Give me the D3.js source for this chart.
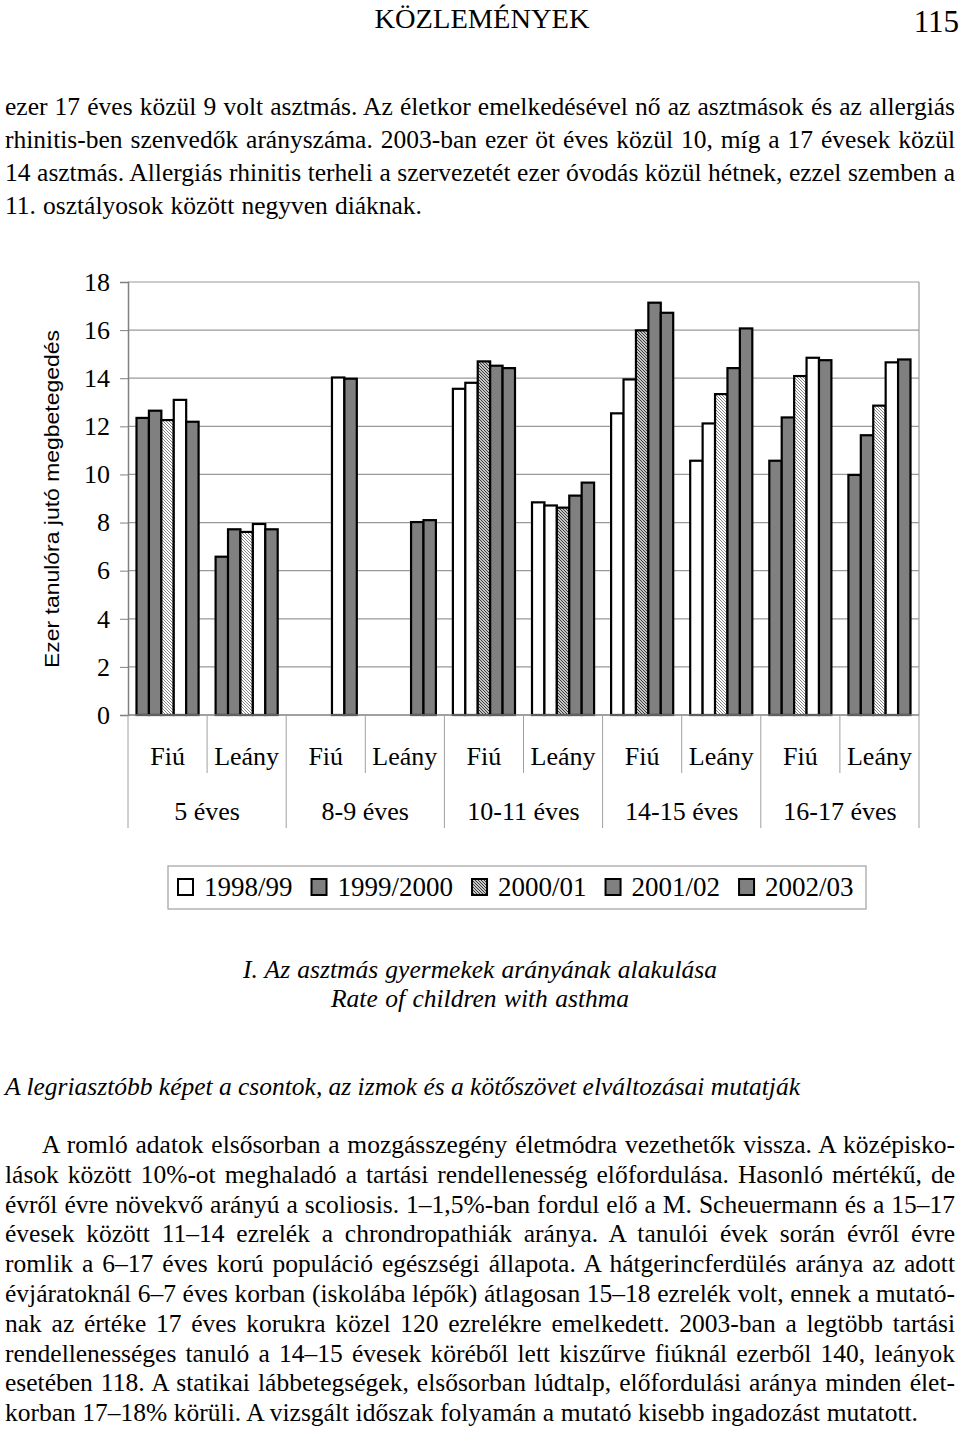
<!DOCTYPE html>
<html><head><meta charset="utf-8">
<script src="https://cdn.jsdelivr.net/npm/d3@7"></script>
<style>body{margin:0;background:#fff}svg{display:block}</style>
</head><body>
<svg id="c" width="960" height="1429"></svg>
<script>
// ---------- DATA ----------
const categories = ["Fiú","Leány","Fiú","Leány","Fiú","Leány","Fiú","Leány","Fiú","Leány"];
const ageGroups = ["5 éves","8-9 éves","10-11 éves","14-15 éves","16-17 éves"];
const seriesNames = ["1998/99","1999/2000","2000/01","2001/02","2002/03"];
const v1998_99   = [12.35, 6.58, null, null, 13.56, 8.84, 12.54, 10.57, 10.57,  9.98];
const v1999_2000 = [12.65, 7.72, null, null, 13.81, 8.71, 13.95, 12.12, 12.37, 11.63];
const v2000_01   = [12.26, 7.61, null, null, 14.70, 8.62, 15.99, 13.34, 14.09, 12.86];
const v2001_02   = [13.10, 7.94, 14.03, 8.02, 14.52, 9.12, 17.14, 14.42, 14.85, 14.66];
const v2002_03   = [12.19, 7.72, 13.98, 8.10, 14.42, 9.66, 16.72, 16.07, 14.75, 14.78];
const seriesValues = [v1998_99, v1999_2000, v2000_01, v2001_02, v2002_03];
const yTicks = [0,2,4,6,8,10,12,14,16,18];
const yTitle = "Ezer tanulóra jutó megbetegedés";

// fill style of each bar as printed (w = white, g = grey, h = dense hatch, l = light hatch)
const barStyle = [
  ["g","g","l","w","g"],["g","g","l","w","g"],
  ["-","-","-","w","g"],["-","-","-","g","g"],
  ["w","w","h","g","g"],["w","w","h","g","g"],
  ["w","w","h","g","g"],["w","w","l","g","g"],
  ["g","g","l","w","g"],["g","g","l","w","g"]
];
const legendStyle = ["w","g","h","g","g"];

// ---------- TEXT ----------
const headerTitle = "KÖZLEMÉNYEK";
const pageNumber = "115";
const introLines = [
  "ezer 17 éves közül 9 volt asztmás. Az életkor emelkedésével nő az asztmások és az allergiás",
  "rhinitis-ben szenvedők arányszáma. 2003-ban ezer öt éves közül 10, míg a 17 évesek közül",
  "14 asztmás. Allergiás rhinitis terheli a szervezetét ezer óvodás közül hétnek, ezzel szemben a",
  "11. osztályosok között negyven diáknak."
];
const captionLines = ["I. Az asztmás gyermekek arányának alakulása","Rate of children with asthma"];
const sectionHeading = "A legriasztóbb képet a csontok, az izmok és a kötőszövet elváltozásai mutatják";
const bodyLines = [
  "A romló adatok elsősorban a mozgásszegény életmódra vezethetők vissza. A középisko-",
  "lások között 10%-ot meghaladó a tartási rendellenesség előfordulása. Hasonló mértékű, de",
  "évről évre növekvő arányú a scoliosis. 1–1,5%-ban fordul elő a M. Scheuermann és a 15–17",
  "évesek között 11–14 ezrelék a chrondropathiák aránya. A tanulói évek során évről évre",
  "romlik a 6–17 éves korú populáció egészségi állapota. A hátgerincferdülés aránya az adott",
  "évjáratoknál 6–7 éves korban (iskolába lépők) átlagosan 15–18 ezrelék volt, ennek a mutató-",
  "nak az értéke 17 éves korukra közel 120 ezrelékre emelkedett. 2003-ban a legtöbb tartási",
  "rendellenességes tanuló a 14–15 évesek köréből lett kiszűrve fiúknál ezerből 140, leányok",
  "esetében 118. A statikai lábbetegségek, elsősorban lúdtalp, előfordulási aránya minden élet-",
  "korban 17–18% körüli. A vizsgált időszak folyamán a mutató kisebb ingadozást mutatott."
];

// ---------- DRAW ----------
const svg = d3.select("#c");
const serif = "'Liberation Serif','Times New Roman',serif";
const sans = "'Liberation Sans',Arial,sans-serif";

function fitWords(sel, target) {
  sel.each(function(){
    const t = d3.select(this).text();
    const n = (t.match(/ /g) || []).length;
    const w = this.getComputedTextLength();
    if (n > 0) d3.select(this).style("word-spacing", ((target - w) / n) + "px");
    else d3.select(this).attr("textLength", target).attr("lengthAdjust","spacing");
  });
}

// header
svg.append("text").attr("x", 482).attr("y", 28).attr("text-anchor","middle")
  .style("font-family", serif).style("font-size","27px").text(headerTitle)
  .attr("textLength", 215).attr("lengthAdjust","spacingAndGlyphs");
svg.append("text").attr("x", 959).attr("y", 32).attr("text-anchor","end")
  .style("font-family", serif).style("font-size","31px").text(pageNumber);

// intro paragraph
svg.append("g").selectAll("text").data(introLines).join("text")
  .attr("x", 5).attr("y", (d,i) => 115 + i*33)
  .style("font-family", serif).style("font-size","25.5px").text(d => d)
  .each(function(d,i){ fitWords(d3.select(this), i < 3 ? 950 : 417); });

// chart
const m = {left:128, right:919, top:282, bottom:715};
const x0 = d3.scaleBand().domain(d3.range(categories.length)).range([m.left, m.right]).padding(0);
const x1 = d3.scaleBand().domain(d3.range(seriesNames.length))
  .range([8.5, x0.bandwidth() - 8.5]).padding(0);
const y = d3.scaleLinear().domain([0,18]).range([m.bottom, m.top]);

const defs = svg.append("defs");
const pd = defs.append("pattern").attr("id","hatchDense").attr("patternUnits","userSpaceOnUse")
  .attr("width",3).attr("height",3);
pd.append("rect").attr("width",3).attr("height",3).attr("fill","#fff");
pd.append("path").attr("d","M-1,2 L1,4 M0,0 L3,3 M2,-1 L4,1").attr("stroke","#333").attr("stroke-width",1.1);
const pl = defs.append("pattern").attr("id","hatchLight").attr("patternUnits","userSpaceOnUse")
  .attr("width",3).attr("height",3);
pl.append("rect").attr("width",3).attr("height",3).attr("fill","#fff");
pl.append("path").attr("d","M-1,2 L1,4 M0,0 L3,3 M2,-1 L4,1").attr("stroke","#777").attr("stroke-width",0.9);
const fillOf = s => s === "w" ? "#ffffff" : s === "g" ? "#808080" : s === "h" ? "url(#hatchDense)" : "url(#hatchLight)";

// grid
svg.append("g").selectAll("line").data(yTicks.filter(t => t > 0)).join("line")
  .attr("x1", m.left).attr("x2", m.right).attr("y1", d => y(d)).attr("y2", d => y(d))
  .attr("stroke","#9a9a9a").attr("stroke-width",1.2);
// right border
svg.append("line").attr("x1", m.right).attr("x2", m.right).attr("y1", m.top).attr("y2", m.bottom)
  .attr("stroke","#9a9a9a").attr("stroke-width",1.2);

// y axis
const yAxis = d3.axisLeft(y).tickValues(yTicks).tickSize(8).tickPadding(10).tickFormat(d3.format("d"));
const ya = svg.append("g").attr("transform", `translate(${m.left},0)`).call(yAxis);
ya.select(".domain").attr("stroke","#808080").attr("stroke-width",1.5);
ya.selectAll(".tick line").attr("stroke","#808080");
ya.selectAll(".tick text").style("font-family", serif).style("font-size","26px").attr("fill","#000");

// y title
svg.append("text").attr("transform","translate(59,499) rotate(-90)").attr("text-anchor","middle")
  .style("font-family", sans).style("font-size","21px").text(yTitle)
  .attr("textLength", 338).attr("lengthAdjust","spacingAndGlyphs");

// bars
const barData = [];
categories.forEach((c, ci) => seriesValues.forEach((vals, si) => {
  if (vals[ci] != null) barData.push({ci, si, v: vals[ci], s: barStyle[ci][si]});
}));
svg.append("g").selectAll("rect").data(barData).join("rect")
  .attr("x", d => x0(d.ci) + x1(d.si)).attr("width", x1.bandwidth())
  .attr("y", d => y(d.v)).attr("height", d => y(0) - y(d.v))
  .attr("fill", d => fillOf(d.s)).attr("stroke","#000").attr("stroke-width",2.2);

// x axis line
svg.append("line").attr("x1", m.left).attr("x2", m.right).attr("y1", m.bottom).attr("y2", m.bottom)
  .attr("stroke","#808080").attr("stroke-width",1.5);
// category separators
svg.append("g").selectAll("line").data(d3.range(categories.length + 1)).join("line")
  .attr("x1", i => m.left + i * x0.bandwidth()).attr("x2", i => m.left + i * x0.bandwidth())
  .attr("y1", m.bottom).attr("y2", i => i % 2 === 0 ? 828 : 773)
  .attr("stroke","#a0a0a0").attr("stroke-width",1);
// category labels
svg.append("g").selectAll("text").data(categories).join("text")
  .attr("x", (d,i) => x0(i) + x0.bandwidth()/2).attr("y", 765).attr("text-anchor","middle")
  .style("font-family", serif).style("font-size","26px").text(d => d);
svg.append("g").selectAll("text").data(ageGroups).join("text")
  .attr("x", (d,i) => x0(i*2) + x0.bandwidth()).attr("y", 820).attr("text-anchor","middle")
  .style("font-family", serif).style("font-size","26px").text(d => d);

// legend
const lg = svg.append("g");
lg.append("rect").attr("x",168).attr("y",866).attr("width",698).attr("height",43)
  .attr("fill","#fff").attr("stroke","#a0a0a0").attr("stroke-width",1.2);
let lx = 178;
seriesNames.forEach((name, i) => {
  lg.append("rect").attr("x", lx).attr("y", 879).attr("width", 15).attr("height", 16)
    .attr("fill", fillOf(legendStyle[i])).attr("stroke","#000").attr("stroke-width",2);
  const t = lg.append("text").attr("x", lx + 26).attr("y", 896)
    .style("font-family", serif).style("font-size","27px").text(name);
  lx += 26 + t.node().getComputedTextLength() + 19;
});

// captions
svg.append("g").selectAll("text").data(captionLines).join("text")
  .attr("x", 480).attr("y", (d,i) => 978 + i*29).attr("text-anchor","middle")
  .style("font-family", serif).style("font-style","italic").style("font-size","25.5px").text(d => d)
  .each(function(d,i){ fitWords(d3.select(this), i === 0 ? 474 : 298); });

svg.append("text").attr("x", 5).attr("y", 1095)
  .style("font-family", serif).style("font-style","italic").style("font-size","25.5px").text(sectionHeading)
  .call(s => fitWords(s, 795));

svg.append("g").selectAll("text").data(bodyLines).join("text")
  .attr("x", (d,i) => i === 0 ? 42 : 5).attr("y", (d,i) => 1153 + i*29.8)
  .style("font-family", serif).style("font-size","25.5px").text(d => d)
  .each(function(d,i){
    const target = i === 0 ? 913 : (i === bodyLines.length - 1 ? 913 : 950);
    fitWords(d3.select(this), target);
  });
</script>
</body></html>
